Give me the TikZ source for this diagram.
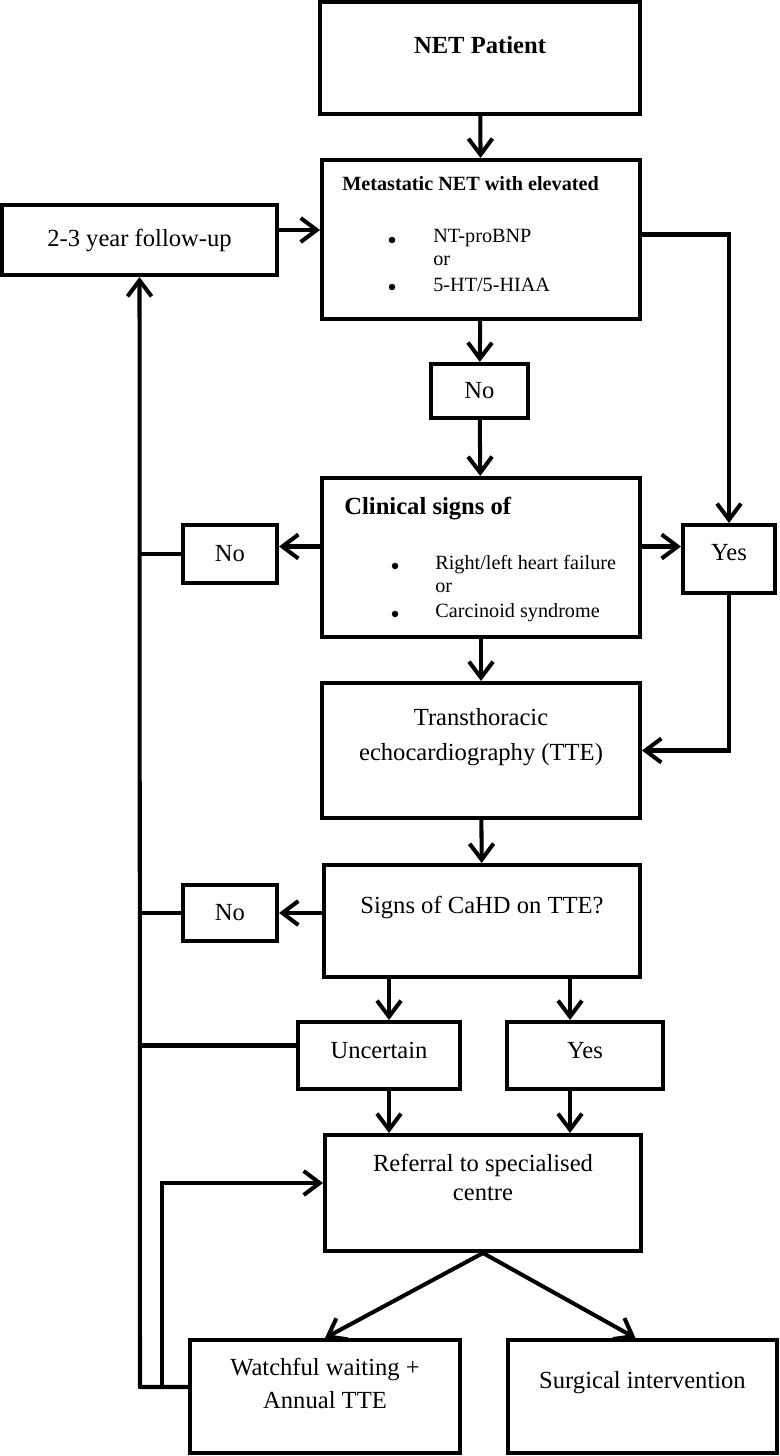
\documentclass[tikz,border=0pt]{standalone}
\usepackage{fontspec}
\setmainfont{Liberation Serif}
\usetikzlibrary{arrows.meta}

\tikzset{
  box/.style={draw,line width=2.3pt,rectangle,inner sep=0pt},
  arr/.style={line width=2.3pt,line cap=round,-{Straight Barb[length=0.32cm,width=0.48cm]}},
  ln/.style={line width=2.3pt,line cap=round},
  big/.style={font=\fontsize{14}{16.5}\selectfont,align=center,inner sep=0pt},
  sml/.style={font=\fontsize{11.5}{13.3}\selectfont,anchor=west,inner sep=0pt},
  dot/.style={circle,fill=black,inner sep=0pt,minimum size=0.13cm},
}

\begin{document}
\begin{tikzpicture}[x=0.02cm,y=-0.02cm]
  \useasboundingbox (0,0) rectangle (780,1456);

  % boxes
  \node[box,minimum width=6.4cm,minimum height=2.24cm] (pat) at (480,58) {};
  \node[box,minimum width=6.36cm,minimum height=3.18cm] (met) at (481,239.5) {};
  \node[box,minimum width=5.5cm,minimum height=1.4cm] (fol) at (139.5,240) {};
  \node[box,minimum width=1.94cm,minimum height=1.08cm] (no1) at (479.5,391) {};
  \node[box,minimum width=6.36cm,minimum height=3.18cm] (cli) at (481,557.5) {};
  \node[box,minimum width=1.88cm,minimum height=1.16cm] (no2) at (230,554) {};
  \node[box,minimum width=1.84cm,minimum height=1.36cm] (yes1) at (729,559) {};
  \node[box,minimum width=6.36cm,minimum height=2.7cm] (tte) at (481,750.5) {};
  \node[box,minimum width=6.32cm,minimum height=2.24cm] (sig) at (482,921) {};
  \node[box,minimum width=1.88cm,minimum height=1.12cm] (no3) at (230,913) {};
  \node[box,minimum width=3.24cm,minimum height=1.34cm] (unc) at (379,1055.5) {};
  \node[box,minimum width=3.12cm,minimum height=1.34cm] (yes2) at (585,1055.5) {};
  \node[box,minimum width=6.32cm,minimum height=2.32cm] (ref) at (483,1193) {};
  \node[box,minimum width=5.4cm,minimum height=2.26cm] (wat) at (325,1396.5) {};
  \node[box,minimum width=5.38cm,minimum height=2.26cm] (sur) at (642.5,1396.5) {};

  % texts
  \node[big] (patT) at (480,45) {\bfseries NET Patient};
  \node[sml] (metT) at (342,184) {\bfseries Metastatic NET with elevated};
  \node[dot] (metB1) at (392,240) {};
  \node[sml] (metL1) at (433,238) {NT-proBNP};
  \node[sml] (metL2) at (433,261) {or};
  \node[dot] (metB2) at (392,287) {};
  \node[sml] (metL3) at (433,285) {5-HT/5-HIAA};
  \node[big] (folT) at (139.5,240) {2-3 year follow-up};
  \node[big] (no1T) at (479.5,391) {No};
  \node[big,anchor=west] (cliT) at (344,509) {\bfseries Clinical signs of};
  \node[dot] (cliB1) at (395,566) {};
  \node[sml] (cliL1) at (435,565) {Right/left heart failure};
  \node[sml] (cliL2) at (435,588) {or};
  \node[dot] (cliB2) at (395,614) {};
  \node[sml] (cliL3) at (435,613) {Carcinoid syndrome};
  \node[big] (no2T) at (230,554) {No};
  \node[big] (yes1T) at (729,553) {Yes};
  \node[big] (tteT) at (481,737.5) {Transthoracic\\[3.4pt]echocardiography (TTE)};
  \node[big] (sigT) at (482,907) {Signs of CaHD on TTE?};
  \node[big] (no3T) at (230,913) {No};
  \node[big] (uncT) at (379,1050) {Uncertain};
  \node[big] (yes2T) at (585,1051) {Yes};
  \node[big] (refT) at (483,1177.5) {Referral to specialised\\centre};
  \node[big] (watT) at (325,1383.5) {Watchful waiting +\\[2.3pt]Annual TTE};
  \node[big] (surT) at (642.5,1383) {Surgical intervention};

  \coordinate (jn) at (140,1387);
  \coordinate (lp) at (162,1387);

  % connectors
  \draw[arr] (pat) -- (met);
  \draw[arr] ([yshift=0.2cm]fol.east) -- ([yshift=0.2cm]fol.east -| met.west);
  \draw[arr] ([yshift=0.1cm]met.east) -| (yes1.north);
  \draw[arr] (met) -- (no1);
  \draw[arr] (no1) -- (cli);
  \draw[arr] ([yshift=0.22cm]cli.east) -- ([yshift=0.22cm]cli.east -| yes1.west);
  \draw[arr] ([yshift=0.22cm]cli.west) -- ([yshift=0.22cm]cli.west -| no2.east);
  \draw[arr] (cli) -- (tte);
  \draw[arr] (yes1.south) |- (tte.east);
  \draw[arr] (tte) -- (sig);
  \draw[arr] (no3.east -| sig.west) -- (no3.east);
  \draw[arr] ([xshift=0.2cm]unc.north |- sig.south) -- ([xshift=0.2cm]unc.north);
  \draw[arr] ([xshift=-0.3cm]yes2.north |- sig.south) -- ([xshift=-0.3cm]yes2.north);
  \draw[arr] ([xshift=0.2cm]unc.south) -- ([xshift=0.2cm]unc.south |- ref.north);
  \draw[arr] ([xshift=-0.3cm]yes2.south) -- ([xshift=-0.3cm]yes2.south |- ref.north);
  \draw[arr] (ref.south) -- (wat.north);
  \draw[arr] (ref.south) -- ([xshift=-0.14cm]sur.north);

  % back to follow-up
  \draw[ln] (no2.west) -- (no2.west -| jn);
  \draw[ln] (no3.west) -- (no3.west -| jn);
  \draw[ln] ([yshift=0.2cm]unc.west) -- ([yshift=0.2cm]unc.west -| jn);
  \draw[ln] ([yshift=0.19cm]wat.west) -- (jn);
  \draw[arr] (jn) -- (fol.south);
  \draw[arr] (lp) |- ([yshift=0.2cm]ref.west);
\end{tikzpicture}
\end{document}
